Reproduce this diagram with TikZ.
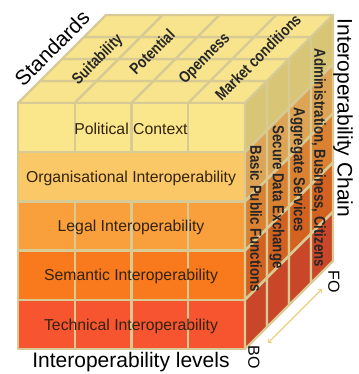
\documentclass[tikz,border=0pt]{standalone}
\usepackage{fontspec}
\setmainfont{Liberation Sans}
\definecolor{topc}{HTML}{F8E48C}
\definecolor{cellline}{HTML}{D8CA94}
\definecolor{polit}{HTML}{FAE78C}
\definecolor{organ}{HTML}{FBC868}
\definecolor{legal}{HTML}{F9A03C}
\definecolor{seman}{HTML}{F87A1C}
\definecolor{techn}{HTML}{F65530}
\definecolor{sidea}{HTML}{D8C676}
\definecolor{sideb}{HTML}{DCA454}
\definecolor{sidec}{HTML}{DB8232}
\definecolor{sided}{HTML}{D3611F}
\definecolor{sidee}{HTML}{C94628}
\definecolor{labtext}{HTML}{33230F}
\definecolor{arrowc}{HTML}{EDCF80}

\begin{document}
\begin{tikzpicture}[x=1pt,y=1pt,
  cell/.style={draw=cellline,line width=2.4pt,line join=round},
  rowlab/.style={text=labtext,font=\fontsize{15.8}{18}\selectfont},
  boldlab/.style={text=black!85,inner sep=0pt,font=\fontsize{16}{18}\selectfont\bfseries},
  outlab/.style={font=\fontsize{21}{24}\selectfont}]
\useasboundingbox (0,0) rectangle (358,374);

% top face
\foreach \c in {0,1,2,3}
\foreach \k in {0,1,2,3}
\filldraw[cell,fill=topc] (18+\c*56.75+\k*22,271+\k*22) -- ++(56.75,0) -- ++(22,22) -- ++(-56.75,0) -- cycle;

% front face
\foreach \r/\fc in {0/polit,1/organ,2/legal,3/seman,4/techn}
\foreach \c in {0,1,2,3}
\filldraw[cell,fill=\fc] (18+\c*56.75,271-\r*49.2) rectangle ++(56.75,-49.2);
\filldraw[cell,fill=organ] (18,271-49.2) rectangle ++(227,-49.2);

% right face
\foreach \r/\sc in {0/sidea,1/sideb,2/sidec,3/sided,4/sidee}
\foreach \k in {0,1,2,3}
\filldraw[cell,fill=\sc] (245+\k*22,271-\r*49.2+\k*22) -- ++(22,22) -- ++(0,-49.2) -- ++(-22,-22) -- cycle;

% levels
\node[rowlab] (political) at (131,245) {Political Context};
\node[rowlab] (organisational) at (131,196) {Organisational Interoperability};
\node[rowlab] (legal) at (131,147) {Legal Interoperability};
\node[rowlab] (semantic) at (131,98) {Semantic Interoperability};
\node[rowlab] (technical) at (131,48) {Technical Interoperability};

% standards
\node[boldlab,rotate=45] (suitability) at (98,314) {\scalebox{0.83}[1]{Suitability}};
\node[boldlab,rotate=45] (potential) at (152,322) {\scalebox{0.83}[1]{Potential}};
\node[boldlab,rotate=45] (openness) at (205,315) {\scalebox{0.83}[1]{Openness}};
\node[boldlab,rotate=45] (market) at (258,317) {\scalebox{0.83}[1]{Market conditions}};

% chain
\node[boldlab,rotate=-90] (basic) at (256,155) {\scalebox{0.83}[1]{Basic Public Functions}};
\node[boldlab,rotate=-90] (secure) at (277,177) {\scalebox{0.83}[1]{Secure Data Exchange}};
\node[boldlab,rotate=-90] (aggregate) at (298,204) {\scalebox{0.83}[1]{Aggregate Services}};
\node[boldlab,rotate=-90] (admin) at (319,216) {\scalebox{0.83}[1]{Administration, Business, Citizens}};

% axis names
\node[outlab,rotate=45] (standards) at (52,326) {Standards};
\node[outlab,rotate=-90] (chain) at (343,256) {Interoperability Chain};
\node[outlab] (levels) at (131,12) {Interoperability levels};
\node[font=\fontsize{16}{18}\selectfont,rotate=-90] (fo) at (334,92) {FO};
\node[font=\fontsize{16}{18}\selectfont,rotate=-90] (bo) at (254,17) {BO};
\coordinate (boend) at (268,31);
\coordinate (foend) at (322,85);
\draw[line width=1.2pt,<->,arrowc] (boend) -- (foend);
\end{tikzpicture}
\end{document}
